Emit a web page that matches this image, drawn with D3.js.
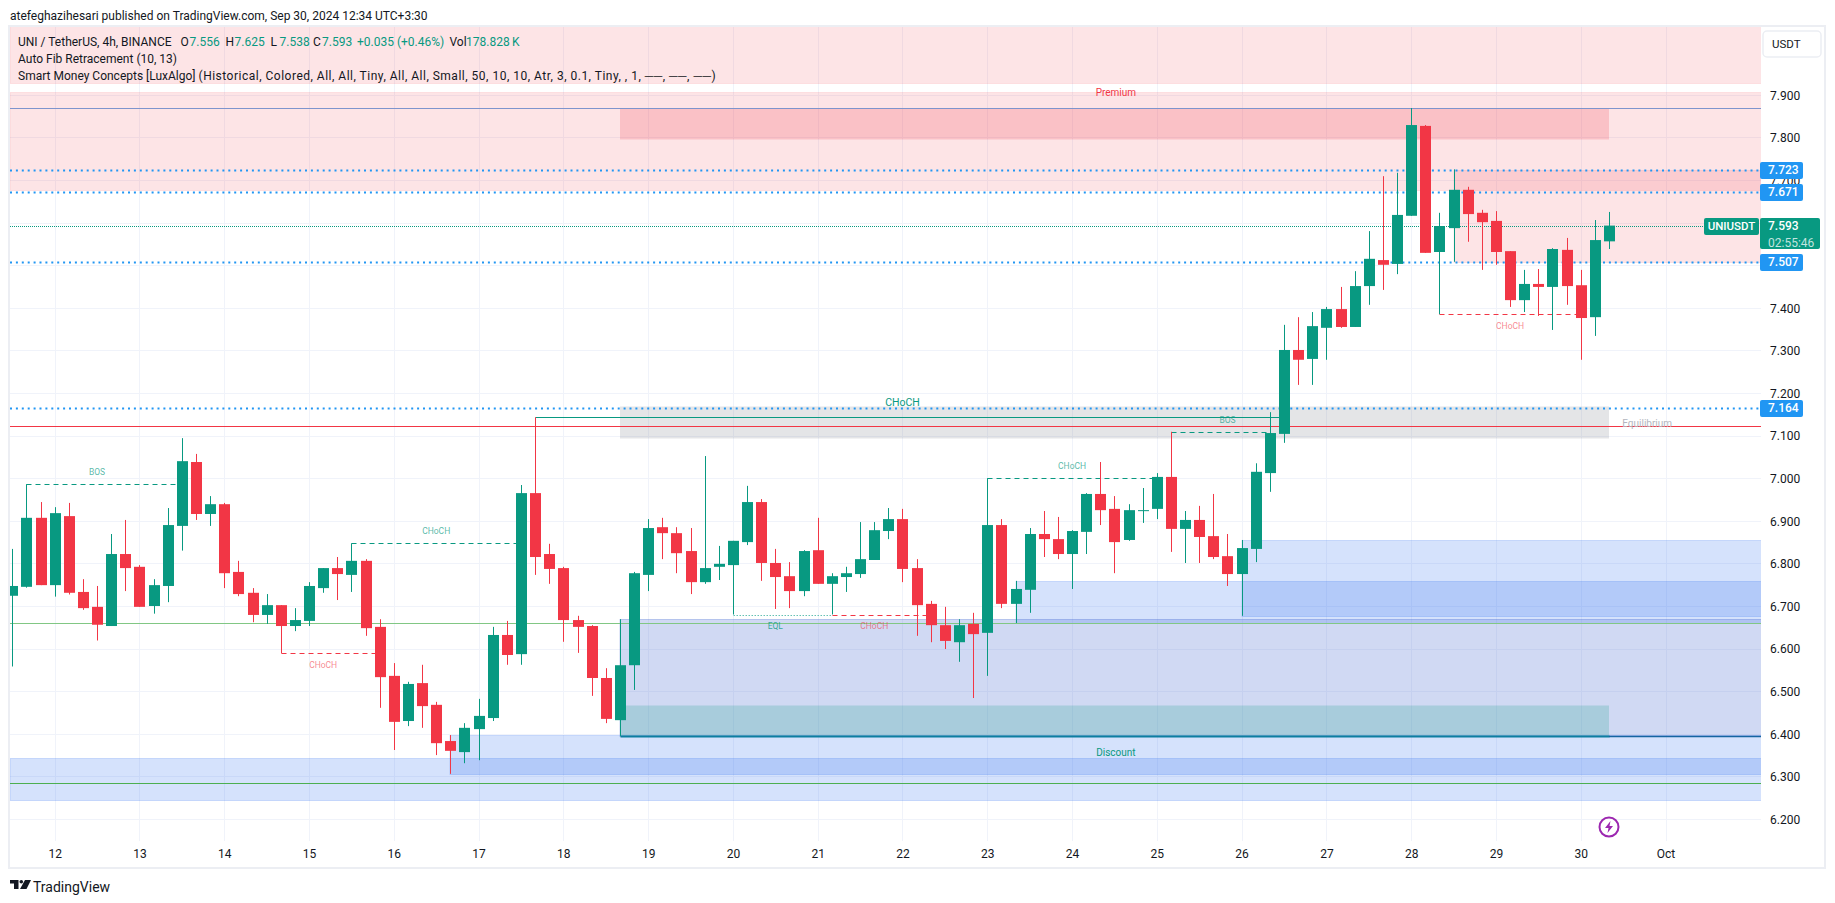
<!DOCTYPE html>
<html>
<head>
<meta charset="utf-8">
<title>UNI / TetherUS</title>
<script src="https://cdn.jsdelivr.net/npm/d3@7"></script>
<style>
  html, body { margin: 0; padding: 0; background: #fff; }
  svg { display: block; }
  text { font-family: Roboto, "Noto Sans", sans-serif; }
</style>
</head>
<body>
<svg id="chart" width="1835" height="903"></svg>
<script>
/* global d3 */

// 4h candles
const opens = [
  6.724, 6.745, 6.907, 6.749, 6.911, 6.733, 6.698, 6.653, 6.822, 6.792, 6.700, 6.747,
  6.888, 7.038, 6.916, 6.939, 6.780, 6.731, 6.679, 6.702, 6.653, 6.665, 6.742, 6.789,
  6.773, 6.806, 6.651, 6.536, 6.430, 6.519, 6.468, 6.383, 6.357, 6.411, 6.437, 6.632,
  6.587, 6.965, 6.822, 6.789, 6.667, 6.653, 6.531, 6.432, 6.561, 6.773, 6.885, 6.871,
  6.829, 6.756, 6.792, 6.796, 6.850, 6.944, 6.801, 6.770, 6.735, 6.831, 6.752, 6.768,
  6.775, 6.808, 6.876, 6.904, 6.789, 6.705, 6.655, 6.615, 6.658, 6.637, 6.890, 6.705,
  6.738, 6.869, 6.857, 6.822, 6.874, 6.963, 6.928, 6.855, 6.923, 6.928, 7.003, 6.881,
  6.902, 6.864, 6.817, 6.775, 6.834, 7.012, 7.104, 7.301, 7.280, 7.353, 7.397, 7.355,
  7.451, 7.512, 7.503, 7.616, 7.827, 7.531, 7.587, 7.677, 7.623, 7.604, 7.533, 7.418,
  7.456, 7.449, 7.536, 7.453, 7.378, 7.556,
];
const highs = [
  6.834, 6.986, 6.944, 6.932, 6.942, 6.763, 6.747, 6.869, 6.902, 6.796, 6.763, 6.930,
  7.094, 7.057, 6.958, 6.942, 6.806, 6.742, 6.728, 6.702, 6.695, 6.756, 6.789, 6.815,
  6.847, 6.810, 6.669, 6.566, 6.522, 6.562, 6.475, 6.397, 6.425, 6.482, 6.651, 6.665,
  6.984, 7.143, 6.846, 6.792, 6.677, 6.655, 6.554, 6.669, 6.780, 6.904, 6.907, 6.885,
  6.883, 7.052, 6.841, 6.853, 6.982, 6.951, 6.834, 6.803, 6.831, 6.907, 6.777, 6.792,
  6.897, 6.897, 6.930, 6.928, 6.810, 6.712, 6.698, 6.669, 6.684, 7.000, 6.904, 6.759,
  6.883, 6.923, 6.909, 6.878, 6.965, 7.038, 6.958, 6.939, 6.977, 7.012, 7.109, 6.923,
  6.935, 6.963, 6.869, 6.855, 7.035, 7.155, 7.360, 7.378, 7.390, 7.402, 7.449, 7.486,
  7.580, 7.709, 7.717, 7.869, 7.829, 7.623, 7.725, 7.684, 7.630, 7.627, 7.533, 7.489,
  7.491, 7.540, 7.564, 7.489, 7.606, 7.625,
];
const lows = [
  6.558, 6.743, 6.749, 6.722, 6.727, 6.691, 6.619, 6.653, 6.735, 6.698, 6.682, 6.709,
  6.830, 6.902, 6.888, 6.742, 6.723, 6.662, 6.658, 6.589, 6.641, 6.653, 6.731, 6.714,
  6.733, 6.630, 6.461, 6.362, 6.418, 6.414, 6.350, 6.306, 6.331, 6.338, 6.430, 6.562,
  6.562, 6.773, 6.752, 6.616, 6.590, 6.489, 6.425, 6.395, 6.503, 6.735, 6.810, 6.777,
  6.728, 6.752, 6.761, 6.680, 6.843, 6.759, 6.693, 6.695, 6.723, 6.752, 6.680, 6.733,
  6.766, 6.808, 6.857, 6.756, 6.630, 6.615, 6.599, 6.569, 6.484, 6.536, 6.695, 6.660,
  6.684, 6.815, 6.810, 6.740, 6.822, 6.890, 6.777, 6.853, 6.895, 6.904, 6.827, 6.801,
  6.801, 6.810, 6.747, 6.677, 6.803, 6.968, 7.083, 7.219, 7.219, 7.278, 7.353, 7.355,
  7.407, 7.442, 7.479, 7.616, 7.529, 7.385, 7.508, 7.555, 7.489, 7.501, 7.402, 7.390,
  7.381, 7.348, 7.407, 7.278, 7.334, 7.538,
];
const closes = [
  6.747, 6.907, 6.749, 6.918, 6.731, 6.695, 6.656, 6.822, 6.789, 6.698, 6.749, 6.890,
  7.040, 6.916, 6.939, 6.777, 6.728, 6.679, 6.702, 6.653, 6.667, 6.747, 6.789, 6.775,
  6.806, 6.648, 6.533, 6.428, 6.517, 6.465, 6.378, 6.360, 6.414, 6.442, 6.632, 6.585,
  6.965, 6.815, 6.787, 6.667, 6.651, 6.531, 6.435, 6.561, 6.777, 6.883, 6.871, 6.824,
  6.756, 6.789, 6.799, 6.853, 6.944, 6.801, 6.768, 6.735, 6.829, 6.752, 6.770, 6.777,
  6.810, 6.878, 6.904, 6.787, 6.702, 6.655, 6.618, 6.655, 6.634, 6.890, 6.705, 6.740,
  6.869, 6.857, 6.822, 6.876, 6.963, 6.925, 6.850, 6.925, 6.925, 7.003, 6.881, 6.902,
  6.862, 6.815, 6.775, 6.836, 7.015, 7.106, 7.301, 7.278, 7.357, 7.397, 7.355, 7.451,
  7.515, 7.501, 7.618, 7.829, 7.529, 7.592, 7.677, 7.620, 7.601, 7.531, 7.418, 7.456,
  7.449, 7.538, 7.451, 7.376, 7.559, 7.593,
];

// axes, 7.600 and 7.500 have a grid line but their labels are covered by price tags
const gridPrices = [7.9, 7.8, 7.7, 7.6, 7.5, 7.4, 7.3, 7.2, 7.1, 7.0, 6.9, 6.8, 6.7, 6.6, 6.5, 6.4, 6.3, 6.2];
const priceTicks = [7.9, 7.8, 7.7, 7.4, 7.3, 7.2, 7.1, 7.0, 6.9, 6.8, 6.7, 6.6, 6.5, 6.4, 6.3, 6.2];
const dayLabels = ['12', '13', '14', '15', '16', '17', '18', '19', '20', '21', '22', '23', '24', '25', '26', '27', '28', '29', '30', 'Oct'];
const dayCandles = dayLabels.map((d, i) => 3 + i * 6);

// price bands: [first candle or null for the pane edge, last candle or null, top, bottom]
const pinkBands = [[null, null, 8.2, 7.928], [null, null, 7.906, 7.675], [102, null, 7.723, 7.507]];
const supplyBands = [[43, 113, 7.868, 7.795]];
const greyBands = [[43, 113, 7.170, 7.094]];
const blueBands = [[null, null, 6.343, 6.244], [31, null, 6.397, 6.306], [71, null, 6.758, 6.66], [87, null, 6.855, 6.677]];
const purpleBands = [[43, null, 6.669, 6.395]];
const tealBands = [[43, 113, 6.467, 6.395]];

// structure lines: [from candle, to candle, price, label, candle under the label]
const greenDashed = [[1, 12, 6.986, 'BOS', 6], [24, 36, 6.847, 'CHoCH', 30], [69, 81, 7.000, 'CHoCH', 75], [82, 89, 7.109, 'BOS', 86]];
const redDashed = [[19, 26, 6.589, 'CHoCH', 22], [58, 65, 6.680, 'CHoCH', 61], [101, 111, 7.385, 'CHoCH', 106]];
const eqlLine = [[51, 58, 6.680, 'EQL', 54]];
const bigChoch = [[37, 90, 7.143, 'CHoCH', 63]];
const discountFloor = [[43, 113, 6.395]];

const fibLevels = [7.723, 7.671, 7.507, 7.164];
const lastPrice = 7.593;
const highLine = 7.868;
const redLine = 7.122;
const greenLines = [[6.659, '#81c784'], [6.285, '#4caf50']];

const legendTitle = 'UNI / TetherUS, 4h, BINANCE';
const legendOhlc = [['O', '7.556'], ['H', '7.625'], ['L', '7.538'], ['C', '7.593']];
const legendChange = '+0.035 (+0.46%)';
const legendVol = '178.828\u2009K';
const legendFib = 'Auto Fib Retracement (10, 13)';
const legendSmcName = 'Smart Money Concepts [LuxAlgo] ';
const legendSmcArgs = '(Historical, Colored, All, All, Tiny, All, All, Small, 50, 10, 10, Atr, 3, 0.1, Tiny, , 1, \u2500\u2500, \u2500\u2500, \u2500\u2500)';

const GREEN = '#089981';
const RED = '#f23645';
const PANE = { left: 10, right: 1761, top: 27, bottom: 841 };

const svg = d3.select('#chart');

// one pixel of y is 1/426 of a price unit, one candle is 14.13px
const x = d3.scaleLinear().domain([0, 113]).range([12.3, 1609]);
const y = d3.scaleLinear().domain([7.9, 6.2]).range([94.8, 819]);
const crisp = v => Math.round(v) + 0.5;

svg.append('defs').append('clipPath').attr('id', 'pane')
  .append('rect')
  .attr('x', PANE.left)
  .attr('y', PANE.top)
  .attr('width', PANE.right - PANE.left)
  .attr('height', PANE.bottom - PANE.top);

// frame
svg.append('rect')
  .attr('x', 9)
  .attr('y', 26)
  .attr('width', 1816)
  .attr('height', 842)
  .attr('fill', 'none')
  .attr('stroke', '#eceef3')
  .attr('stroke-width', 2);

const pane = svg.append('g').attr('clip-path', 'url(#pane)');

// grid
pane.append('g').selectAll('line').data(gridPrices).join('line')
  .attr('x1', PANE.left)
  .attr('x2', PANE.right)
  .attr('y1', d => crisp(y(d)))
  .attr('y2', d => crisp(y(d)))
  .attr('stroke', '#f0f3fa');

pane.append('g').selectAll('line').data(dayCandles).join('line')
  .attr('x1', d => crisp(x(d)))
  .attr('x2', d => crisp(x(d)))
  .attr('y1', PANE.top)
  .attr('y2', PANE.bottom)
  .attr('stroke', '#f0f3fa');

// draws one list of price bands
const drawBands = (bands, fill, stroke) => {
  const left = d => (d[0] === null ? PANE.left : x(d[0]));
  const right = d => (d[1] === null ? PANE.right + 2 : x(d[1]));
  pane.append('g').selectAll('rect').data(bands).join('rect')
    .attr('x', d => Math.round(left(d)))
    .attr('width', d => Math.round(right(d) - left(d)))
    .attr('y', d => Math.round(y(d[2])) + 0.5)
    .attr('height', d => Math.round(y(d[3]) - y(d[2])))
    .attr('fill', fill)
    .attr('stroke', stroke);
};

drawBands(pinkBands, 'rgba(242,54,69,0.135)', 'rgba(242,54,69,0.1)');
drawBands(supplyBands, 'rgba(242,54,69,0.2)', 'none');
drawBands(greyBands, 'rgba(120,123,134,0.2)', 'none');
drawBands(blueBands, 'rgba(45,110,240,0.2)', 'rgba(45,110,240,0.2)');
drawBands(purpleBands, 'rgba(67,103,207,0.25)', 'rgba(67,103,207,0.3)');
drawBands(tealBands, 'rgba(8,153,129,0.2)', 'none');

// full width lines, these sit behind the candles
const hLine = (price, color, width, dash) => pane.append('line')
  .attr('x1', PANE.left)
  .attr('x2', PANE.right)
  .attr('y1', crisp(y(price)))
  .attr('y2', crisp(y(price)))
  .attr('stroke', color)
  .attr('stroke-width', width)
  .attr('stroke-dasharray', dash);

hLine(highLine, '#7e94cd', 1);
hLine(redLine, RED, 1);
greenLines.forEach(d => hLine(d[0], d[1], 1.2));
hLine(lastPrice, GREEN, 1, '1,1');
fibLevels.forEach(d => hLine(d, '#2196f3', 2, '2,3.9'));

// structure lines
const drawStructure = (rows, color, width, dash) => {
  pane.append('g').selectAll('line').data(rows).join('line')
    .attr('x1', d => crisp(x(d[0])))
    .attr('x2', d => crisp(x(d[1])))
    .attr('y1', d => crisp(y(d[2])))
    .attr('y2', d => crisp(y(d[2])))
    .attr('stroke', color)
    .attr('stroke-width', width)
    .attr('stroke-dasharray', dash);
};

drawStructure(greenDashed, GREEN, 1, '5,4');
drawStructure(redDashed, RED, 1, '5,4');
drawStructure(eqlLine, '#66c2b3', 1, '1.5,1.5');
drawStructure(bigChoch, GREEN, 1);
drawStructure(discountFloor, '#0d7ea0', 2);
pane.append('line')
  .attr('x1', x(113))
  .attr('x2', PANE.right)
  .attr('y1', crisp(y(discountFloor[0][2])))
  .attr('y2', crisp(y(discountFloor[0][2])))
  .attr('stroke', '#1565a0')
  .attr('stroke-width', 1.5);

// candles
const candles = opens.map((o, i) => ({ i, o, h: highs[i], l: lows[i], c: closes[i] }));
const candleColor = d => (d.c >= d.o ? GREEN : RED);
const gCandles = pane.append('g');

gCandles.selectAll('line').data(candles).join('line')
  .attr('x1', d => crisp(x(d.i)))
  .attr('x2', d => crisp(x(d.i)))
  .attr('y1', d => y(d.h))
  .attr('y2', d => y(d.l))
  .attr('stroke', candleColor);

gCandles.selectAll('rect').data(candles).join('rect')
  .attr('x', d => crisp(x(d.i)) - 5.5)
  .attr('width', 11)
  .attr('y', d => y(Math.max(d.o, d.c)))
  .attr('height', d => Math.max(1, Math.abs(y(d.o) - y(d.c))))
  .attr('fill', candleColor);

// small labels on the structure lines
const labelGroup = pane.append('g').attr('text-anchor', 'middle');
const drawLabels = (rows, color, size, dy, alpha) => {
  labelGroup.append('g').selectAll('text').data(rows).join('text')
    .attr('x', d => x(d[4]))
    .attr('y', d => y(d[2]) + dy)
    .attr('dy', '0.35em')
    .attr('fill', color)
    .attr('fill-opacity', alpha)
    .attr('font-size', size)
    .text(d => d[3]);
};

drawLabels(greenDashed, GREEN, 8.5, -12, 0.7);
drawLabels(redDashed, RED, 8.5, 12, 0.6);
drawLabels(eqlLine, GREEN, 8.5, 12, 0.8);
drawLabels(bigChoch, GREEN, 10.5, -15, 1);

const zoneLabel = (text, cx, price, color, dy) => labelGroup.append('text')
  .attr('x', x(cx))
  .attr('y', y(price) + dy)
  .attr('dy', '0.35em')
  .attr('fill', color)
  .attr('font-size', 10)
  .text(text);

zoneLabel('Premium', 78.1, 7.9, RED, -2);
zoneLabel('Discount', 78.1, 6.395, GREEN, 16.5);
zoneLabel('Equilibrium', 115.7, 7.122, '#b2b5be', -3);

// axes
const yAxis = d3.axisRight(y).tickValues(priceTicks).tickFormat(d3.format('.3f')).tickSize(0);
const xAxis = d3.axisBottom(x).tickValues(dayCandles).tickFormat((d, i) => dayLabels[i]).tickSize(0);

const gy = svg.append('g').attr('transform', `translate(${PANE.right + 6},0.5)`).call(yAxis);
const gx = svg.append('g').attr('transform', `translate(0,${PANE.bottom + 5})`).call(xAxis);

[gy, gx].forEach((g) => {
  g.select('.domain').remove();
  g.selectAll('text')
    .attr('fill', '#131722')
    .attr('font-size', 12)
    .style('font-family', 'Roboto, "Noto Sans", sans-serif');
});

// price tags on the axis
const tagGroup = svg.append('g');
const tag = (tx, ty, w, h, fill) => tagGroup.append('rect')
  .attr('x', tx)
  .attr('y', ty)
  .attr('width', w)
  .attr('height', h)
  .attr('rx', 2)
  .attr('fill', fill);

fibLevels.forEach((d) => {
  const ty = Math.round(y(d));
  tag(PANE.right - 1, ty - 8, 43, 17, '#2196f3');
  tagGroup.append('text')
    .attr('x', PANE.right + 7)
    .attr('y', ty)
    .attr('dy', '0.35em')
    .attr('fill', '#fff')
    .attr('font-size', 12)
    .attr('font-weight', 500)
    .text(d3.format('.3f')(d));
});

const lastY = Math.round(y(lastPrice));
tag(1704, lastY - 8, 55, 17, GREEN);
tag(PANE.right - 1, lastY - 8, 60, 31, GREEN);
tagGroup.append('text')
  .attr('x', 1731.5)
  .attr('y', lastY)
  .attr('dy', '0.35em')
  .attr('text-anchor', 'middle')
  .attr('fill', '#fff')
  .attr('font-size', 11.5)
  .attr('font-weight', 500)
  .text('UNIUSDT');
tagGroup.append('text')
  .attr('x', PANE.right + 7)
  .attr('y', lastY)
  .attr('dy', '0.35em')
  .attr('fill', '#fff')
  .attr('font-size', 12)
  .attr('font-weight', 500)
  .text(d3.format('.3f')(lastPrice));
tagGroup.append('text')
  .attr('x', PANE.right + 7)
  .attr('y', lastY + 17)
  .attr('dy', '0.35em')
  .attr('fill', '#fff')
  .attr('fill-opacity', 0.75)
  .attr('font-size', 12)
  .text('02:55:46');

// currency box
svg.append('rect')
  .attr('x', 1763)
  .attr('y', 31)
  .attr('width', 58)
  .attr('height', 26)
  .attr('rx', 4)
  .attr('fill', '#fff')
  .attr('stroke', '#eceef3')
  .attr('stroke-width', 1.5);
svg.append('text')
  .attr('x', 1772)
  .attr('y', 44)
  .attr('dy', '0.35em')
  .attr('fill', '#131722')
  .attr('font-size', 11.5)
  .text('USDT');

// header and legend
const textAt = (tx, ty, str, color, size) => svg.append('text')
  .attr('x', tx)
  .attr('y', ty)
  .attr('dy', '0.35em')
  .attr('fill', color)
  .attr('font-size', size || 12)
  .text(str);

textAt(10, 16, 'atefeghazihesari published on TradingView.com, Sep 30, 2024 12:34 UTC+3:30', '#131722');
textAt(18, 42, legendTitle, '#131722');
const ohlcX = [180.5, 225.5, 270.5, 313];
legendOhlc.forEach((d, i) => {
  textAt(ohlcX[i], 42, d[0], '#131722');
  textAt(ohlcX[i] + 9, 42, d[1], GREEN);
});
textAt(357, 42, legendChange, GREEN);
textAt(449.5, 42, 'Vol', '#131722');
textAt(466, 42, legendVol, GREEN);
textAt(18, 59, legendFib, '#131722');
const smc = textAt(18, 76, legendSmcName, '#131722');
smc.append('tspan').attr('letter-spacing', 0.5).text(legendSmcArgs);

// news marker
const mark = svg.append('g').attr('transform', `translate(${x(113)},827)`);
mark.append('circle')
  .attr('r', 9.5)
  .attr('fill', '#fff')
  .attr('stroke', '#9c27b0')
  .attr('stroke-width', 2);
mark.append('path')
  .attr('d', 'M1.5,-6 L-4,1 L-0.5,1 L-1.5,6 L4,-1 L0.5,-1 Z')
  .attr('fill', '#9c27b0');

// TradingView logo
const logo = svg.append('g').attr('fill', '#131722');
logo.append('path').attr('d', 'M10,880 H18.5 V889 H14 V883.5 H10 Z');
logo.append('circle').attr('cx', 21.3).attr('cy', 881.8).attr('r', 1.8);
logo.append('path').attr('d', 'M25,880 H31 L26.5,889 H20 Z');
textAt(33, 887, 'TradingView', '#131722', 14);
</script>
</body>
</html>
